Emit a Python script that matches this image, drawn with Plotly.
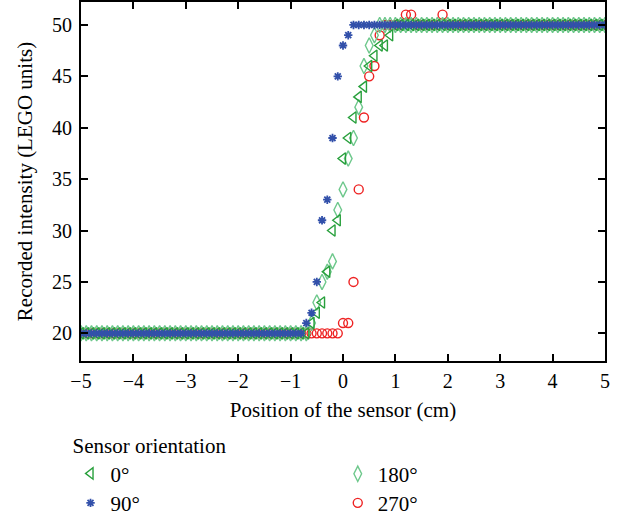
import plotly.graph_objects as go

positions_cm = [
    -5.0, -4.9, -4.8, -4.7, -4.6, -4.5, -4.4, -4.3, -4.2, -4.1,
    -4.0, -3.9, -3.8, -3.7, -3.6, -3.5, -3.4, -3.3, -3.2, -3.1,
    -3.0, -2.9, -2.8, -2.7, -2.6, -2.5, -2.4, -2.3, -2.2, -2.1,
    -2.0, -1.9, -1.8, -1.7, -1.6, -1.5, -1.4, -1.3, -1.2, -1.1,
    -1.0, -0.9, -0.8, -0.7, -0.6, -0.5, -0.4, -0.3, -0.2, -0.1,
    0.0, 0.1, 0.2, 0.3, 0.4, 0.5, 0.6, 0.7, 0.8, 0.9,
    1.0, 1.1, 1.2, 1.3, 1.4, 1.5, 1.6, 1.7, 1.8, 1.9,
    2.0, 2.1, 2.2, 2.3, 2.4, 2.5, 2.6, 2.7, 2.8, 2.9,
    3.0, 3.1, 3.2, 3.3, 3.4, 3.5, 3.6, 3.7, 3.8, 3.9,
    4.0, 4.1, 4.2, 4.3, 4.4, 4.5, 4.6, 4.7, 4.8, 4.9,
    5.0,
]

intensity_0deg = [
    20, 20, 20, 20, 20, 20, 20, 20, 20, 20,
    20, 20, 20, 20, 20, 20, 20, 20, 20, 20,
    20, 20, 20, 20, 20, 20, 20, 20, 20, 20,
    20, 20, 20, 20, 20, 20, 20, 20, 20, 20,
    20, 20, 20, 20, 21, 22, 23, 26, 30, 31,
    37, 39, 41, 43, 44, 46, 47, 48, 48, 49,
    50, 50, 50, 50, 50, 50, 50, 50, 50, 50,
    50, 50, 50, 50, 50, 50, 50, 50, 50, 50,
    50, 50, 50, 50, 50, 50, 50, 50, 50, 50,
    50, 50, 50, 50, 50, 50, 50, 50, 50, 50,
    50,
]

intensity_90deg = [
    20, 20, 20, 20, 20, 20, 20, 20, 20, 20,
    20, 20, 20, 20, 20, 20, 20, 20, 20, 20,
    20, 20, 20, 20, 20, 20, 20, 20, 20, 20,
    20, 20, 20, 20, 20, 20, 20, 20, 20, 20,
    20, 20, 20, 21, 22, 25, 31, 33, 39, 45,
    48, 49, 50, 50, 50, 50, 50, 50, 50, 50,
    50, 50, 50, 50, 50, 50, 50, 50, 50, 50,
    50, 50, 50, 50, 50, 50, 50, 50, 50, 50,
    50, 50, 50, 50, 50, 50, 50, 50, 50, 50,
    50, 50, 50, 50, 50, 50, 50, 50, 50, 50,
    50,
]

intensity_180deg = [
    20, 20, 20, 20, 20, 20, 20, 20, 20, 20,
    20, 20, 20, 20, 20, 20, 20, 20, 20, 20,
    20, 20, 20, 20, 20, 20, 20, 20, 20, 20,
    20, 20, 20, 20, 20, 20, 20, 20, 20, 20,
    20, 20, 20, 20, 21, 23, 25, 26, 27, 32,
    34, 37, 39, 42, 46, 48, 49, 50, 50, 50,
    50, 50, 50, 50, 50, 50, 50, 50, 50, 50,
    50, 50, 50, 50, 50, 50, 50, 50, 50, 50,
    50, 50, 50, 50, 50, 50, 50, 50, 50, 50,
    50, 50, 50, 50, 50, 50, 50, 50, 50, 50,
    50,
]

intensity_270deg = [
    20, 20, 20, 20, 20, 20, 20, 20, 20, 20,
    20, 20, 20, 20, 20, 20, 20, 20, 20, 20,
    20, 20, 20, 20, 20, 20, 20, 20, 20, 20,
    20, 20, 20, 20, 20, 20, 20, 20, 20, 20,
    20, 20, 20, 20, 20, 20, 20, 20, 20, 20,
    21, 21, 25, 34, 41, 45, 46, 49, 50, 50,
    50, 50, 51, 51, 50, 50, 50, 50, 50, 51,
    50, 50, 50, 50, 50, 50, 50, 50, 50, 50,
    50, 50, 50, 50, 50, 50, 50, 50, 50, 50,
    50, 50, 50, 50, 50, 50, 50, 50, 50, 50,
    50,
]

x_ticks = [-5, -4, -3, -2, -1, 0, 1, 2, 3, 4, 5]
y_ticks = [20, 25, 30, 35, 40, 45, 50]

FONT = "Liberation Serif, Times New Roman, serif"
FS = 21
TFS = 20

fig = go.Figure()

fig.add_trace(go.Scatter(
    x=positions_cm, y=intensity_270deg, mode="markers", name="270°",
    legend="legend4",
    marker=dict(symbol="circle-open", size=9, color="rgb(238,34,34)",
                line=dict(width=1.4, color="rgb(238,34,34)")),
))
fig.add_trace(go.Scatter(
    x=positions_cm, y=intensity_180deg, mode="markers", name="180°",
    legend="legend2",
    marker=dict(symbol="diamond-tall-open", size=11, color="rgb(110,200,140)",
                line=dict(width=1.4, color="rgb(110,200,140)")),
))
fig.add_trace(go.Scatter(
    x=positions_cm, y=intensity_0deg, mode="markers", name="0°",
    legend="legend",
    marker=dict(symbol="triangle-left-open", size=10, color="rgb(40,160,60)",
                line=dict(width=1.4, color="rgb(40,160,60)")),
))
fig.add_trace(go.Scatter(
    x=positions_cm, y=intensity_90deg, mode="markers", name="90°",
    legend="legend3",
    marker=dict(symbol="asterisk-open", size=7, color="rgb(50,80,170)",
                line=dict(width=1.8, color="rgb(50,80,170)")),
))

axis_common = dict(
    showline=True, linecolor="black", linewidth=2, mirror="ticks",
    ticks="inside", ticklen=7, tickwidth=2, tickcolor="black",
    showgrid=False, zeroline=False,
    tickfont=dict(family=FONT, size=TFS, color="black"),
)

legend_common = dict(
    xanchor="left", yanchor="top", orientation="v",
    bgcolor="rgba(0,0,0,0)", font=dict(family=FONT, size=FS), itemwidth=30,
)

fig.update_layout(
    width=628, height=516,
    showlegend=True,
    margin=dict(l=81, r=23, t=2, b=155, autoexpand=False),
    paper_bgcolor="white", plot_bgcolor="white",
    font=dict(family=FONT, size=FS, color="black"),
    xaxis=dict(range=[-5, 5], tickvals=x_ticks, ticklabelstandoff=1,
               title=dict(text="Position of the sensor (cm)", standoff=11,
                          font=dict(family=FONT, size=FS)),
               **axis_common),
    yaxis=dict(range=[17.31, 52.23], tickvals=y_ticks, ticklabelstandoff=3,
               title=dict(text="Recorded intensity (LEGO units)", standoff=14,
                          font=dict(family=FONT, size=FS)),
               **axis_common),
    legend=dict(
        title=dict(text="Sensor orientation", font=dict(family=FONT, size=FS)),
        x=-0.02, y=-0.181, **legend_common,
    ),
    legend2=dict(x=0.49, y=-0.258, **legend_common),
    legend3=dict(x=-0.02, y=-0.339, **legend_common),
    legend4=dict(x=0.49, y=-0.339, **legend_common),
)

fig.write_html(
    "out.html",
    config={"displayModeBar": False},
    post_script="document.body.style.margin='0px';",
)
